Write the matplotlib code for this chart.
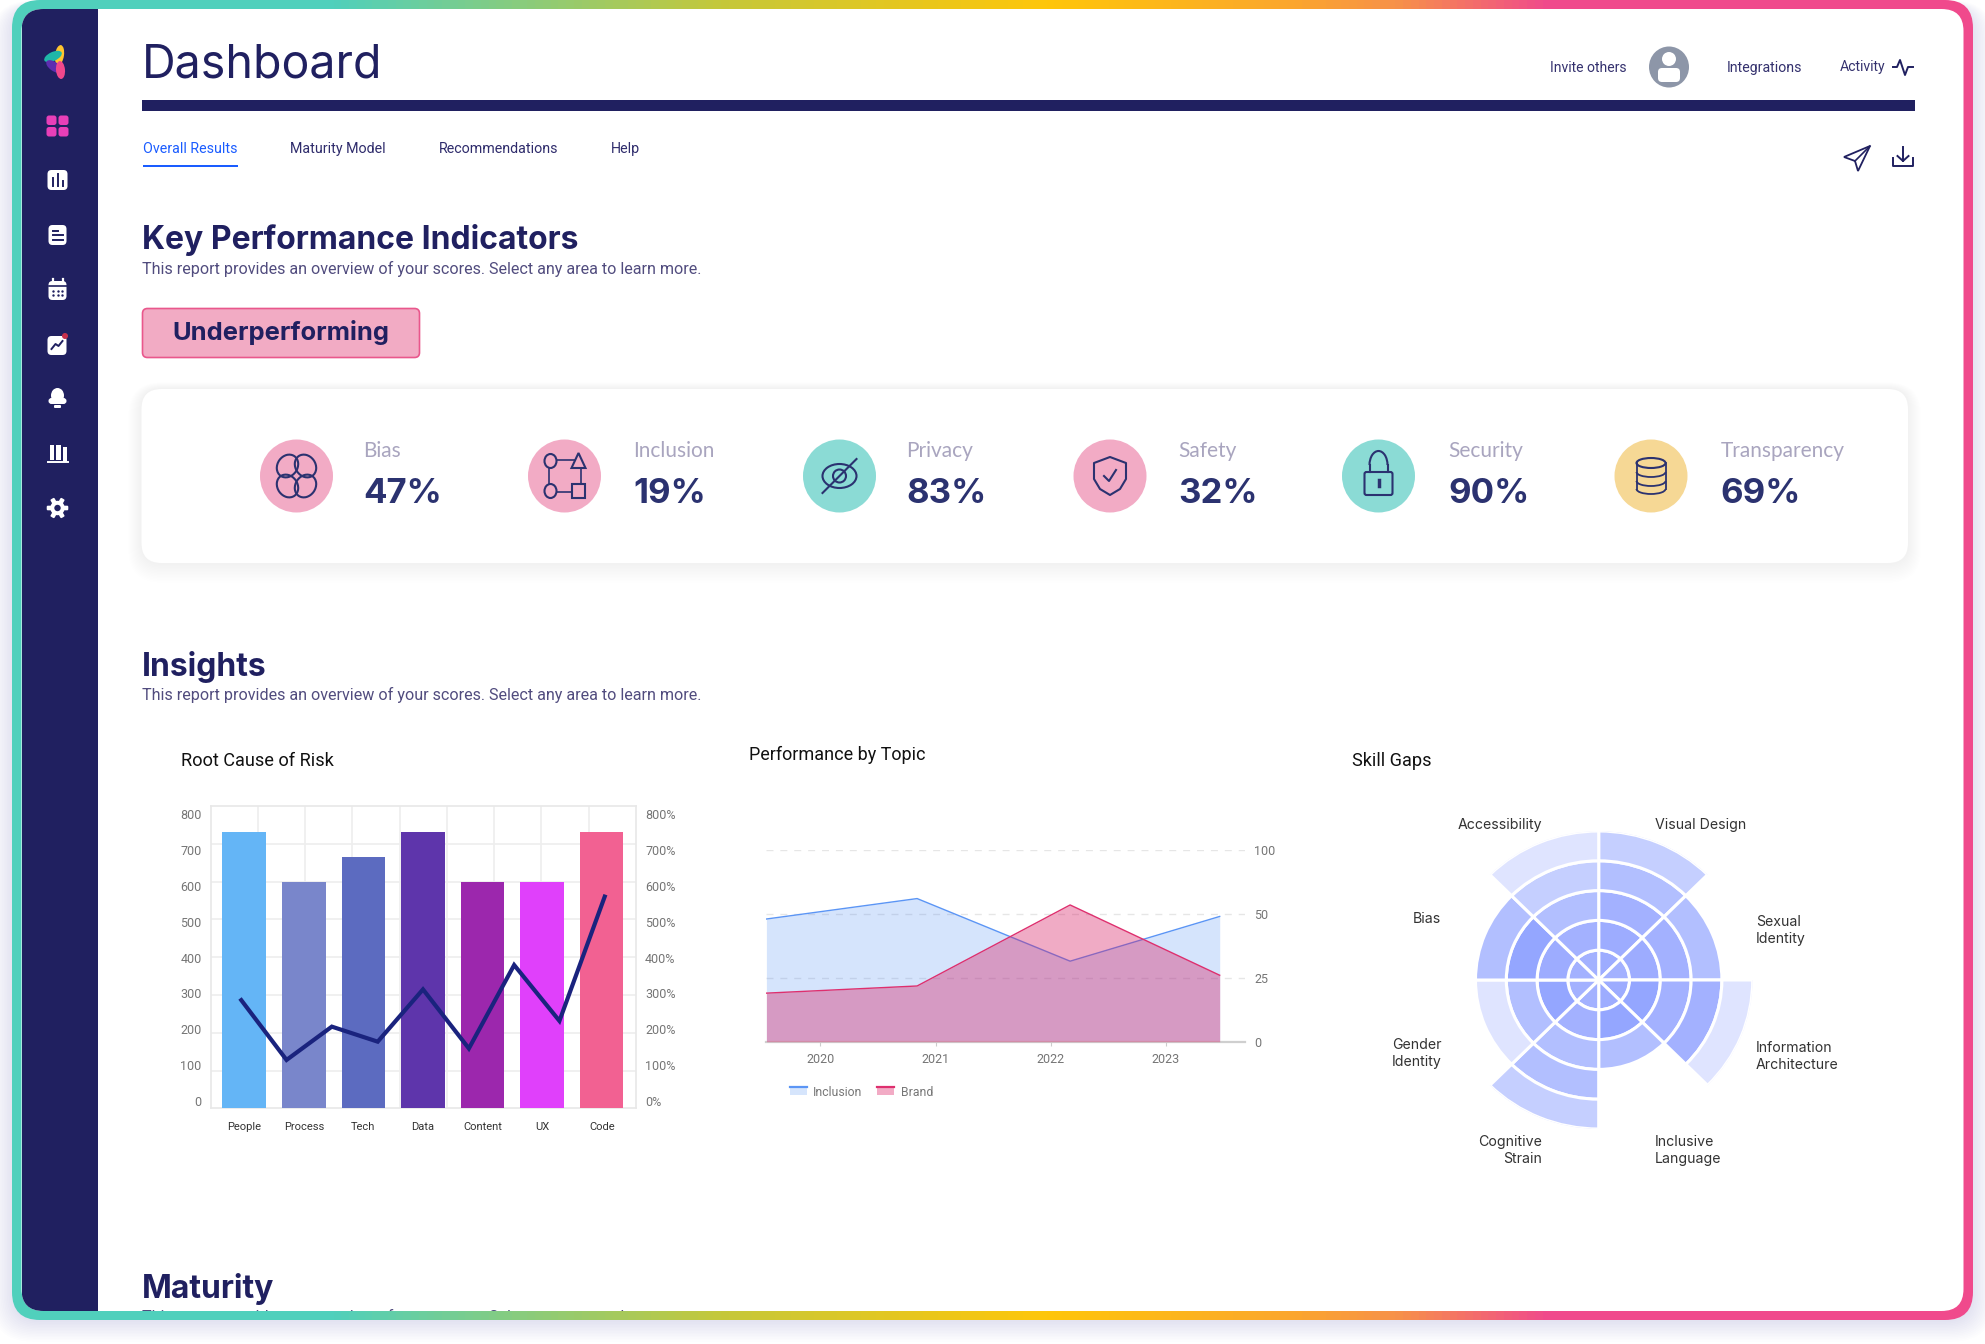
"""Dashboard mock-up: KPI strip plus three insight charts, drawn on a pixel canvas."""

import numpy as np
import matplotlib
matplotlib.use("Agg")
import matplotlib.pyplot as plt
from matplotlib.colors import LinearSegmentedColormap
from matplotlib.legend_handler import HandlerBase
from matplotlib.lines import Line2D
from matplotlib.patches import (Arc, Circle, Ellipse, FancyBboxPatch, Patch,
                                Polygon, Rectangle)

W, H = 1985, 1344

# ── Data ──────────────────────────────────────────────────────────────────────
TABS = ["Overall Results", "Maturity Model", "Recommendations", "Help"]

KPI_NAMES = ["Bias", "Inclusion", "Privacy", "Safety", "Security", "Transparency"]
KPI_VALUES = [47, 19, 83, 32, 90, 69]

RISK_CATEGORIES = ["People", "Process", "Tech", "Data", "Content", "UX", "Code"]
RISK_COUNTS = [750, 610, 680, 750, 610, 610, 750]
RISK_COLORS = ["#64B5F6", "#7986CB", "#5C6BC0", "#5E35AB", "#9C27AD", "#E040FB", "#F26192"]
RISK_TICKS = [0, 100, 200, 300, 400, 500, 600, 700, 800]
# the line has its own nine points, they don't sit on the bar centres
RISK_LINE_X = [-0.05, 0.71, 1.47, 2.24, 3.0, 3.77, 4.53, 5.29, 6.05]
RISK_LINE_PCT = [281, 114, 207, 165, 311, 146, 379, 223, 570]

TOPIC_X = [2019.53, 2020.84, 2022.17, 2023.47]
TOPIC_INCLUSION = [48, 62, 31.5, 49]
TOPIC_BRAND = [19, 21.8, 57, 26]
TOPIC_YEARS = [2020, 2021, 2022, 2023]
TOPIC_TICKS = [0, 25, 50, 100]

SKILL_NAMES = ["Visual Design", "Sexual\nIdentity", "Information\nArchitecture",
               "Inclusive\nLanguage", "Cognitive\nStrain", "Gender\nIdentity",
               "Bias", "Accessibility"]
SKILL_SHADES = ["#94A6FF", "#9DACFF", "#A3B1FF", "#B2BFFF", "#C5CFFF", "#DFE4FF"]
# shade index of every filled ring, inner to outer, clockwise from north
SKILL_VISUAL = [1, 1, 2, 3, 4]
SKILL_SEXUAL = [2, 1, 2, 3]
SKILL_INFO = [1, 0, 2, 2, 5]
SKILL_INCLUSIVE = [1, 0, 3]
SKILL_COGNITIVE = [2, 2, 3, 3, 4]
SKILL_GENDER = [2, 0, 3, 5]
SKILL_BIAS = [2, 1, 0, 3]
SKILL_ACCESS = [2, 2, 3, 4, 5]

# ── Style ─────────────────────────────────────────────────────────────────────
NAVY = "#202060"
HEAD = "Inter"
BODY = "Roboto"
SUB_SIZE = 11.6
H2_SIZE = 23
GRADIENT = [(0, "#50D0BC"), (330, "#50D0BC"), (720, "#C5C83A"), (1050, "#FFC60A"),
            (1300, "#FBA52F"), (1400, "#F7914A"), (1550, "#F04A8C"), (W, "#F04A8C")]
PINK, TEAL, SAND = "#F2ABC5", "#8BDBD5", "#F6D895"
KPI_FILL = [PINK, PINK, TEAL, PINK, TEAL, SAND]
KPI_CX = [296.5, 564.5, 839.5, 1110, 1378.5, 1651]
KPI_TX = [363.5, 633.5, 906.5, 1178.5, 1448, 1720.5]

fig = plt.figure(figsize=(W / 100, H / 100), dpi=100, facecolor="white")
ax = fig.add_axes([0, 0, 1, 1])
ax.axis("off")


def px_axes(x0, y0, x1, y1, **kw):
    """Axes from pixel corners, y measured from the top of the image."""
    return fig.add_axes([x0 / W, 1 - y1 / H, (x1 - x0) / W, (y1 - y0) / H], **kw)


def rounded(x, y, w, h, r, **kw):
    p = FancyBboxPatch((x, y), w, h, boxstyle=f"round,pad=0,rounding_size={r}", **kw)
    ax.add_patch(p)
    return p


def write(x, y, s, size, color=NAVY, family=BODY, weight="normal", ha="left", **kw):
    return ax.text(x, y, s, fontsize=size, color=color, family=family,
                   fontweight=weight, ha=ha, va="center", **kw)


# ── Frame ─────────────────────────────────────────────────────────────────────
for i in range(14):
    rounded(12 - i * 1.6, 6 - i * 0.4, 1961 + i * 3.2, 1316 + i * 1.9, 28 + i,
            fc="#5A69D0", ec="none", alpha=0.012, zorder=0)

outer = rounded(12, 0, 1961, 1320, 28, fc="none", ec="none", zorder=1)
cmap = LinearSegmentedColormap.from_list("frame", [(p / W, c) for p, c in GRADIENT])
grad = ax.imshow(np.linspace(0, 1, W)[None, :], extent=(0, W, 1320, 0), aspect="auto",
                 cmap=cmap, zorder=1)
grad.set_clip_path(outer)
ax.set_xlim(0, W)
ax.set_ylim(H, 0)

panel = rounded(21.5, 9, 1942, 1302, 22, fc="white", ec="none", zorder=2)
side = Rectangle((21.5, 9), 76, 1302, fc=NAVY, ec="none", zorder=2)
ax.add_patch(side)
side.set_clip_path(panel)


# ── Sidebar icons ─────────────────────────────────────────────────────────────
def sidebar_icons():
    cx = 57.5
    Z = 3
    for xy, w, h, ang, col in [((59.5, 55), 9, 20, 8, "#FFC42E"), ((53, 56.5), 9, 19, 65, "#1FB7A8"),
                               ((54, 66.5), 9, 18, 125, "#5E2DB0"), ((60.5, 70), 9, 18, 175, "#F0488C")]:
        ax.add_patch(Ellipse(xy, w, h, angle=ang, fc=col, ec="none", zorder=Z))
    for dx in (-11, 1):
        for dy in (-10.5, 1):
            rounded(cx + dx, 126 + dy, 10, 9.5, 2.5, fc="#E83FB8", ec="none", zorder=Z)
    # chart
    rounded(cx - 10, 170, 20, 20, 4, fc="white", ec="none", zorder=Z)
    for dx, top in [(-5, 178), (0, 174), (5, 181)]:
        ax.plot([cx + dx, cx + dx], [top, 186], color=NAVY, lw=1.4, zorder=Z + 1)
    # document
    rounded(cx - 9, 225, 18, 20, 4, fc="white", ec="none", zorder=Z)
    for dy, hw in [(230.5, 2.5), (235, 5), (239.5, 5)]:
        ax.plot([cx - 5, cx - 5 + 2 * hw], [dy, dy], color=NAVY, lw=1.4, zorder=Z + 1)
    # calendar
    rounded(cx - 9, 281, 18, 19, 4, fc="white", ec="none", zorder=Z)
    ax.plot([cx - 9, cx + 9], [286, 286], color=NAVY, lw=1.2, zorder=Z + 1)
    for dx in (-5, 5):
        ax.plot([cx + dx, cx + dx], [279, 283], color="white", lw=1.6, zorder=Z + 1)
    xs, ys = np.meshgrid([cx - 4.5, cx, cx + 4.5], [290.5, 295])
    ax.scatter(xs.ravel(), ys.ravel(), s=3, color=NAVY, zorder=Z + 1, lw=0)
    # trend
    rounded(cx - 10, 336, 19, 19, 4, fc="white", ec="none", zorder=Z)
    ax.plot([cx - 6, cx - 2, cx + 1, cx + 5], [349, 344, 346, 341], color=NAVY, lw=1.4, zorder=Z + 1)
    ax.add_patch(Circle((cx + 7.5, 336), 3, fc="#C8304C", ec="none", zorder=Z + 1))
    # bell
    ax.add_patch(Ellipse((cx, 395.5), 13, 15, fc="white", ec="none", zorder=Z))
    rounded(cx - 9, 398, 18, 6, 3, fc="white", ec="none", zorder=Z)
    rounded(cx - 3.5, 405, 7, 3, 1, fc="white", ec="none", zorder=Z)
    # books
    for dx, top in [(-8, 445), (-1.5, 445), (5, 447)]:
        ax.add_patch(Rectangle((cx + dx, top), 4.5, 14.5, fc="white", ec="none", zorder=Z))
    ax.plot([cx - 10, cx + 10], [462, 462], color="white", lw=1.4, zorder=Z)
    # gear
    t = np.linspace(0, 2 * np.pi, 145)
    r = 9 + 1.8 * np.clip(3 * np.cos(6 * t), -1, 1)
    ax.add_patch(Polygon(np.c_[cx + r * np.cos(t), 508 + r * np.sin(t)], fc="white", ec="none", zorder=Z))
    ax.add_patch(Circle((cx, 508), 3.2, fc=NAVY, ec="none", zorder=Z + 1))


sidebar_icons()

# ── Header ────────────────────────────────────────────────────────────────────
write(142, 66, "Dashboard", 33.5, family=HEAD, zorder=3)
ax.add_patch(Rectangle((141.5, 100), 1773.5, 10.5, fc=NAVY, ec="none", zorder=3))
write(1550, 68, "Invite others", 10.1, color="#34316E", zorder=3)
write(1727, 68, "Integrations", 10.2, color="#34316E", zorder=3)
write(1840, 66.5, "Activity", 10.1, color="#34316E", zorder=3)
ax.plot([1893, 1897, 1900, 1905, 1908, 1913], [67, 67, 60, 75, 67, 67], color=NAVY, lw=1.4, zorder=3)
ax.add_patch(Ellipse((1669, 67), 40, 41, fc="#8D96A8", ec="none", zorder=3))
ax.add_patch(Circle((1669, 59), 7, fc="white", ec="none", zorder=4))
rounded(1658, 68, 22, 14, 4, fc="white", ec="none", zorder=4)

for s, x in zip(TABS, [143, 290, 438.5, 610.5]):
    write(x, 149, s, 10.3, color="#1A5CFF" if s == TABS[0] else "#2F2C6C", zorder=3)
ax.add_patch(Rectangle((142.5, 164.5), 95, 2.6, fc="#1A5CFF", ec="none", zorder=3))

# send + download
ax.add_patch(Polygon([(1870, 146), (1844, 157), (1855, 161), (1858, 171)], fc="none", ec=NAVY, lw=1.3, zorder=3))
ax.plot([1855, 1870], [161, 146], color=NAVY, lw=1.2, zorder=3)
ax.plot([1903, 1903], [147, 161], color=NAVY, lw=1.4, zorder=3)
ax.plot([1897.5, 1903, 1908.5], [156, 161, 156], color=NAVY, lw=1.4, zorder=3)
ax.plot([1893, 1893, 1913, 1913], [158, 166, 166, 158], color=NAVY, lw=1.4, zorder=3)

# ── KPI section ───────────────────────────────────────────────────────────────
SUB = "This report provides an overview of your scores. Select any area to learn more."
write(142, 240.5, "Key Performance Indicators", H2_SIZE, family=HEAD, weight="bold", zorder=3)
write(142, 269, SUB, SUB_SIZE, color="#514C7E", zorder=3)

rounded(142.5, 308.5, 277, 49, 5, fc="#F2ABC4", ec="#E9578C", lw=1.2, zorder=3)
write(172, 332.5, "Underperforming", 18.4, family=HEAD, weight="bold", zorder=4)

for i in range(14):
    rounded(141.5 - i, 389 - i * 0.5, 1766.5 + 2 * i, 174 + i * 2, 20 + i,
            fc="#B080F0", ec="none", alpha=0.009, zorder=3)
rounded(141.5, 389, 1766.5, 174, 20, fc="white", ec="none", zorder=3)


def kpi_icon(name, x, y):
    st = dict(fc="none", ec="#2B3270", lw=1.5, zorder=5)
    if name == "Bias":
        for dx in (-9, 9):
            for dy in (-10, 10):
                ax.add_patch(Ellipse((x + dx, y + dy), 20, 24, angle=35 * np.sign(dx * dy), **st))
    elif name == "Inclusion":
        ax.add_patch(Rectangle((x - 16, y - 16), 32, 32, fc="none", ec="#2B3270", lw=1.2, zorder=5))
        ax.add_patch(Ellipse((x - 14, y - 15), 12, 14, fc=PINK, ec="#2B3270", lw=1.5, zorder=6))
        ax.add_patch(Polygon([(x + 14, y - 23), (x + 7, y - 8), (x + 21, y - 8)], fc=PINK, ec="#2B3270", lw=1.5, zorder=6))
        ax.add_patch(Ellipse((x - 14, y + 15), 12, 14, fc=PINK, ec="#2B3270", lw=1.5, zorder=6))
        ax.add_patch(Rectangle((x + 7, y + 8), 13, 14, fc=PINK, ec="#2B3270", lw=1.5, zorder=6))
    elif name == "Privacy":
        ax.add_patch(Ellipse((x, y), 34, 24, **st))
        ax.add_patch(Circle((x, y), 6.5, **st))
        ax.plot([x - 17, x + 17], [y + 17, y - 17], color="#2B3270", lw=1.5, zorder=5)
    elif name == "Safety":
        ax.add_patch(Polygon([(x, y - 19), (x + 16, y - 13), (x + 16, y + 3), (x + 10, y + 13), (x, y + 19),
                              (x - 10, y + 13), (x - 16, y + 3), (x - 16, y - 13)], joinstyle="round", **st))
        ax.plot([x - 6, x - 1, x + 6], [y, y + 5, y - 6], color="#2B3270", lw=1.5, zorder=5)
    elif name == "Security":
        rounded(x - 14, y - 4, 28, 23, 2, **st)
        ax.add_patch(Arc((x, y - 11), 18, 28, theta1=180, theta2=360, ec="#2B3270", lw=1.5, zorder=5))
        ax.plot([x - 9, x - 9], [y - 11, y - 4], color="#2B3270", lw=1.5, zorder=5)
        ax.plot([x + 9, x + 9], [y - 11, y - 4], color="#2B3270", lw=1.5, zorder=5)
        ax.plot([x, x], [y + 4, y + 10], color="#2B3270", lw=2.5, zorder=5)
    else:
        ax.plot([x - 14.5, x - 14.5], [y - 13, y + 13], color="#2B3270", lw=1.3, zorder=5)
        ax.plot([x + 14.5, x + 14.5], [y - 13, y + 13], color="#2B3270", lw=1.3, zorder=5)
        ax.add_patch(Ellipse((x, y - 13), 29, 10, **st))
        for dy in (-4, 5, 13):
            ax.add_patch(Arc((x, y + dy), 29, 10, theta1=0, theta2=180, ec="#2B3270", lw=1.3, zorder=5))


for name, val, fill, cx, tx in zip(KPI_NAMES, KPI_VALUES, KPI_FILL, KPI_CX, KPI_TX):
    ax.add_patch(Ellipse((cx, 476), 73, 73, fc=fill, ec="none", zorder=4))
    kpi_icon(name, cx, 476)
    write(tx, 451, name, 15, color="#A9A5BF", family="Lato", zorder=4)
    write(tx, 494, f"{val}%", 25, color="#2B3270", family=HEAD, weight="bold", zorder=4)

# ── Insights / Maturity headings ──────────────────────────────────────────────
write(142, 667, "Insights", H2_SIZE, family=HEAD, weight="bold", zorder=3)
write(142, 695, SUB, SUB_SIZE, color="#514C7E", zorder=3)
write(142, 1289, "Maturity", H2_SIZE, family=HEAD, weight="bold", zorder=3)
clip = write(142, 1317, SUB, SUB_SIZE, color="#514C7E", zorder=3, clip_on=True)
clip.set_clip_path(Rectangle((97, 1000), 1800, 311, transform=ax.transData))

write(181, 761.5, "Root Cause of Risk", 13.1, color="#111111", zorder=3)
write(749, 755, "Performance by Topic", 13, color="#111111", zorder=3)
write(1352, 761, "Skill Gaps", 13.1, color="#111111", zorder=3)


# ── Chart 1: bars + line on twin axis ─────────────────────────────────────────
def plot_risk():
    a = px_axes(210.7, 806, 636, 1108.3, facecolor="none")
    ymin, ymax = -21, 823
    a.set_xlim(-0.563, 6.575)
    a.set_ylim(ymin, ymax)
    x = np.arange(len(RISK_CATEGORIES))
    a.bar(x, np.array(RISK_COUNTS) - ymin, bottom=ymin, width=0.73, color=RISK_COLORS, zorder=3)
    a.set_xticks(x, RISK_CATEGORIES, fontsize=8, color="#333333", family=BODY)
    a.set_yticks(RISK_TICKS, [str(t) for t in RISK_TICKS], fontsize=9, color="#757575", family=BODY)
    a.tick_params(axis="both", which="major", length=0)
    a.tick_params(axis="x", pad=10)
    a.tick_params(axis="y", pad=6.5)
    # the grid of the original does not line up with its tick labels
    a.set_xticks(np.linspace(-0.563, 6.575, 10)[1:-1], minor=True)
    a.set_yticks(np.linspace(ymin, ymax, 9)[1:-1], minor=True)
    a.tick_params(which="minor", length=0)
    a.grid(which="minor", color="#EEEEEE", lw=1.2)
    a.set_axisbelow(True)
    for sp in a.spines.values():
        sp.set_color("#E8E8E8")
        sp.set_linewidth(1.2)
    b = a.twinx()
    b.set_ylim(ymin, ymax)
    b.set_yticks(RISK_TICKS, [f"{t}%" for t in RISK_TICKS], fontsize=9, color="#757575", family=BODY)
    b.tick_params(axis="y", length=0, pad=6.5)
    b.plot(RISK_LINE_X, RISK_LINE_PCT, color="#1A237E", lw=3, solid_joinstyle="miter", zorder=5)
    for sp in b.spines.values():
        sp.set_visible(False)


# ── Chart 2: overlapping areas, tick steps 0/25/50/100 are evenly spaced ──────
class AreaHandler(HandlerBase):
    """Legend swatch: pale fill with the series line along its top edge."""

    def create_artists(self, legend, orig, xd, yd, width, height, fontsize, trans):
        rect = Rectangle((-xd, -yd), width, height, fc=orig.get_facecolor(), ec="none", transform=trans)
        line = Line2D([-xd, width - xd], [height - yd] * 2, color=orig.get_edgecolor(), lw=1.6, transform=trans)
        return [rect, line]


def plot_topics():
    a = px_axes(766.4, 850, 1245, 1041.7, facecolor="none")
    stops, slots = TOPIC_TICKS, [0, 1, 2, 3]
    a.set_yscale("function", functions=(lambda v: np.interp(v, stops, slots),
                                        lambda p: np.interp(p, slots, stops)))
    a.set_xlim(TOPIC_X[0], 2023.69)
    a.set_ylim(0, 100)
    a.fill_between(TOPIC_X, TOPIC_INCLUSION, color="#4285F4", alpha=0.22, lw=0, zorder=2)
    a.plot(TOPIC_X, TOPIC_INCLUSION, color="#5B95F5", lw=1, zorder=3)
    a.fill_between(TOPIC_X, TOPIC_BRAND, color="#D81B63", alpha=0.37, lw=0, zorder=4)
    a.plot(TOPIC_X, TOPIC_BRAND, color="#DE2F6E", lw=1, zorder=5)
    a.yaxis.tick_right()
    a.set_yticks(TOPIC_TICKS, [str(t) for t in TOPIC_TICKS], fontsize=9, color="#757575", family=BODY)
    a.minorticks_off()
    a.set_xticks(TOPIC_YEARS, [str(y) for y in TOPIC_YEARS], fontsize=9, color="#757575", family=BODY)
    a.tick_params(axis="y", length=0, pad=6.5)
    a.tick_params(axis="x", length=3, color="#CCCCCC", pad=5)
    a.grid(axis="y", color="#E6E6E6", lw=1, dashes=(5, 5))
    a.set_axisbelow(True)
    for side_name in ("top", "left", "right"):
        a.spines[side_name].set_visible(False)
    a.spines["bottom"].set_color("#CFCFCF")
    a.spines["bottom"].set_linewidth(1.6)
    handles = [Patch(fc="#D6E5FC", ec="#5B95F5"), Patch(fc="#F2ABC5", ec="#DE2F6E")]
    fig.legend(handles, ["Inclusion", "Brand"], handler_map={Patch: AreaHandler()},
               loc="center left", bbox_to_anchor=(789.5 / W, 1 - 1092 / H), ncol=2, frameon=False,
               prop={"family": BODY, "size": 8.8}, labelcolor="#777777", borderpad=0,
               borderaxespad=0, handlelength=1.4, handleheight=0.55, handletextpad=0.55,
               columnspacing=1.2)


# ── Chart 3: radial ring chart ────────────────────────────────────────────────
def plot_skills():
    rings = [SKILL_VISUAL, SKILL_SEXUAL, SKILL_INFO, SKILL_INCLUSIVE,
             SKILL_COGNITIVE, SKILL_GENDER, SKILL_BIAS, SKILL_ACCESS]
    # the original is a touch wider than tall, so no equal aspect here
    a = px_axes(1598.7 - 154, 980 - 149, 1598.7 + 154, 980 + 149, projection="polar", facecolor="none")
    a.set_aspect("auto")
    a.set_theta_zero_location("N")
    a.set_theta_direction(-1)
    for i, levels in enumerate(rings):
        theta = (i + 0.5) * np.pi / 4
        for ring, level in enumerate(levels):
            a.bar(theta, 1, width=np.pi / 4, bottom=ring, color=SKILL_SHADES[level],
                  edgecolor="white", linewidth=2.2)
    a.set_ylim(0, 5)
    a.set_axis_off()
    spots = [(1655, 825.5, "left"), (1756, 930.5, "left"), (1756, 1056.5, "left"), (1655, 1150.5, "left"),
             (1542, 1150.5, "right"), (1442, 1053.5, "right"), (1441, 919, "right"), (1542, 825.5, "right")]
    for name, (x, y, ha) in zip(SKILL_NAMES, spots):
        ax.text(x, y, name, fontsize=10.2, color="#333333", family=HEAD, ha=ha, va="center",
                linespacing=1.35, zorder=3)


plot_risk()
plot_topics()
plot_skills()

fig.savefig("out.png", dpi=100)
